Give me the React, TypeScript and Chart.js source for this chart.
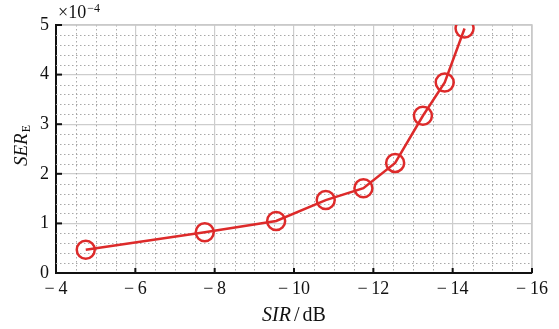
import React, { useEffect, useRef } from "react";
import { Chart, registerables } from "chart.js";

Chart.register(...registerables);

const sirDb = [-4.75, -7.75, -9.55, -10.8, -11.75, -12.55, -13.25, -13.8, -14.3];
const serE = [0.47, 0.82, 1.05, 1.47, 1.71, 2.22, 3.17, 3.84, 4.93];
const xTicks = [-4, -6, -8, -10, -12, -14, -16];
const yTicks = [0, 1, 2, 3, 4, 5];

const FONT = "'Liberation Serif', 'DejaVu Serif', serif";
const RED = "#dd2a2a";

const fmtMinus = (v: number) => (v < 0 ? "\u2212\u2009" + Math.abs(v) : String(v));

const decorPlugin = {
  id: "decor",
  beforeDatasetsDraw(chart: any) {
    const { ctx, chartArea: a, scales } = chart;
    const xs = scales.x;
    const ys = scales.y;
    ctx.save();
    ctx.strokeStyle = "#a8a8a8";
    ctx.lineWidth = 1;
    ctx.setLineDash([1.5, 2.5]);
    for (let v = -16; v <= -4 + 1e-9; v += 0.5) {
      if (Math.abs(v % 2) < 1e-9) continue;
      const px = Math.round(xs.getPixelForValue(v)) + 0.5;
      ctx.beginPath();
      ctx.moveTo(px, a.top);
      ctx.lineTo(px, a.bottom);
      ctx.stroke();
    }
    for (let i = 0; i <= 25; i++) {
      if (i % 5 === 0) continue;
      const v = i * 0.2;
      const py = Math.round(ys.getPixelForValue(v)) + 0.5;
      ctx.beginPath();
      ctx.moveTo(a.left, py);
      ctx.lineTo(a.right, py);
      ctx.stroke();
    }
    ctx.setLineDash([]);
    ctx.strokeStyle = "#c8c8c8";
    ctx.lineWidth = 1.5;
    ctx.beginPath();
    ctx.moveTo(a.left, a.top);
    ctx.lineTo(a.right, a.top);
    ctx.lineTo(a.right, a.bottom);
    ctx.stroke();
    ctx.restore();
  },
  afterDraw(chart: any) {
    const { ctx, chartArea: a, scales } = chart;
    const xs = scales.x;
    const ys = scales.y;
    ctx.save();
    ctx.strokeStyle = "#111";
    ctx.lineWidth = 2;
    xTicks.forEach((v) => {
      const px = xs.getPixelForValue(v);
      ctx.beginPath();
      ctx.moveTo(px, a.bottom);
      ctx.lineTo(px, a.bottom - 5);
      ctx.stroke();
    });
    yTicks.forEach((v) => {
      const py = ys.getPixelForValue(v);
      ctx.beginPath();
      ctx.moveTo(a.left, py);
      ctx.lineTo(a.left + 6, py);
      ctx.stroke();
    });
    ctx.fillStyle = "#111";
    ctx.textBaseline = "alphabetic";
    // exponent label
    ctx.textAlign = "left";
    ctx.font = `18px ${FONT}`;
    ctx.fillText("\u00d710", a.left + 2, 18);
    const w1 = ctx.measureText("\u00d710").width;
    ctx.font = `12px ${FONT}`;
    ctx.fillText("\u22124", a.left + 2 + w1 + 1, 12);
    // x title
    const cx = (a.left + a.right) / 2;
    ctx.font = `italic 20px ${FONT}`;
    const wS = ctx.measureText("SIR").width;
    ctx.font = `20px ${FONT}`;
    const wSl = ctx.measureText("/").width;
    const wD = ctx.measureText("dB").width;
    const gap = 3;
    const total = wS + gap + wSl + gap + wD;
    const x0 = cx - total / 2;
    ctx.font = `italic 20px ${FONT}`;
    ctx.fillText("SIR", x0, 321);
    ctx.font = `20px ${FONT}`;
    ctx.fillText("/", x0 + wS + gap, 321);
    ctx.fillText("dB", x0 + wS + gap + wSl + gap, 321);
    // y title
    const cy = 146;
    ctx.translate(27, cy);
    ctx.rotate(-Math.PI / 2);
    ctx.font = `italic 19px ${FONT}`;
    const wSer = ctx.measureText("SER").width;
    ctx.font = `12px ${FONT}`;
    const wE = ctx.measureText("E").width;
    const sx = -(wSer + wE) / 2;
    ctx.font = `italic 19px ${FONT}`;
    ctx.fillText("SER", sx, 0);
    ctx.font = `12px ${FONT}`;
    ctx.fillText("E", sx + wSer + 1, 3);
    ctx.restore();
  },
};

export default function App() {
  const ref = useRef<HTMLCanvasElement | null>(null);
  useEffect(() => {
    if (!ref.current) return;
    const chart = new Chart(ref.current, {
      type: "line",
      data: {
        datasets: [
          {
            data: sirDb.map((x, i) => ({ x, y: serE[i] })),
            borderColor: RED,
            borderWidth: 2.5,
            pointRadius: 9,
            pointBorderWidth: 2.5,
            pointBorderColor: RED,
            pointBackgroundColor: "rgba(0,0,0,0)",
            tension: 0,
            fill: false,
          },
        ],
      },
      options: {
        animation: false,
        responsive: false,
        events: [],
        layout: { padding: { left: 0, top: 25, right: 27, bottom: 0 } },
        plugins: { legend: { display: false }, tooltip: { enabled: false } },
        scales: {
          x: {
            type: "linear",
            min: -16,
            max: -4,
            reverse: true,
            afterFit: (s: any) => {
              s.height = 56;
              s.paddingLeft = 0;
              s.paddingRight = 0;
            },
            ticks: {
              stepSize: 2,
              padding: 5,
              color: "#111",
              font: { family: FONT, size: 18 },
              callback: (v: any) => fmtMinus(Number(v)),
              maxRotation: 0,
              autoSkip: false,
            },
            grid: { color: "#cdcdcd", lineWidth: 1.2, drawTicks: false },
            border: { color: "#111", width: 2 },
          },
          y: {
            type: "linear",
            min: 0,
            max: 5,
            afterFit: (s: any) => {
              s.width = 56;
              s.paddingTop = 0;
              s.paddingBottom = 0;
            },
            ticks: {
              stepSize: 1,
              padding: 7,
              color: "#111",
              font: { family: FONT, size: 18 },
            },
            grid: { color: "#cdcdcd", lineWidth: 1.2, drawTicks: false },
            border: { color: "#111", width: 2 },
          },
        },
      },
      plugins: [decorPlugin],
    });
    return () => chart.destroy();
  }, []);
  return (
    <div style={{ position: "fixed", left: 0, top: 0, width: 559, height: 329, background: "#fff" }}>
      <canvas ref={ref} width={559} height={329} style={{ display: "block" }} />
    </div>
  );
}
